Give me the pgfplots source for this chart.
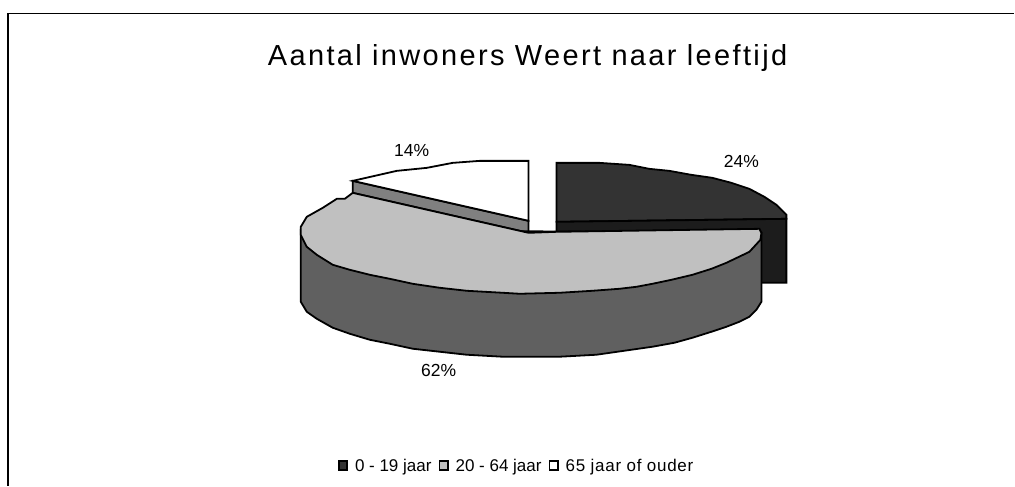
\documentclass[border=0pt]{standalone}
\usepackage{fontspec}
\setmainfont{Liberation Sans}
\usepackage{pgfplots}
\pgfplotsset{compat=1.18}

\definecolor{sliceA}{HTML}{333333}
\definecolor{sliceAside}{HTML}{1C1C1C}
\definecolor{sliceB}{HTML}{C0C0C0}
\definecolor{sliceBside}{HTML}{606060}
\definecolor{sliceBedge}{HTML}{808080}

\begin{document}
\begin{tikzpicture}
  % axis runs in image pixels of the reference, y downwards
  \begin{axis}[
      scale only axis,
      width=1015pt,
      height=486pt,
      xmin=0, xmax=1015,
      ymin=0, ymax=486,
      y dir=reverse,
      hide axis,
      clip=false,
      legend columns=3,
      legend cell align=left,
      legend style={
        at={(axis cs:338,466)}, anchor=west,
        draw=none, fill=none,
        font=\fontsize{17}{20}\selectfont,
        /tikz/every odd column/.append style={column sep=5pt},
        /tikz/every even column/.append style={column sep=5pt},
        inner sep=0pt,
      },
      legend image code/.code={
        \draw[#1, line width=1.6pt] (0pt,-4.5pt) rectangle (8.5pt,4.5pt);
      },
    ]

    % keeps the page at the full pixel box
    \path (axis cs:0,0) (axis cs:1015,486);

    % frame
    \addplot[forget plot, draw=black, line width=1.6pt] coordinates {
      (8,486) (8,13.5) (1015,13.5)
    };

    % 0 - 19 jaar, top
    \addplot[fill=sliceA, draw=black, line width=1.8pt] coordinates {
      (557,163) (600,163) (630,165) (650,169) (670,171) (692,175) (713,178)
      (732,183) (750,189) (765,197) (777,205) (787,215) (787,219) (557,222)
    } -- cycle;
    \addlegendentry{0 - 19 jaar}

    % 0 - 19 jaar, side
    \addplot[forget plot, fill=sliceAside, draw=black, line width=1.8pt] coordinates {
      (557,222) (787,219) (787,283) (755,283) (755,232) (557,232)
    } -- cycle;

    % 20 - 64 jaar, cut edge
    \addplot[forget plot, fill=sliceBedge, draw=black, line width=1.8pt] coordinates {
      (353,181) (353,193) (529,233) (529,221)
    } -- cycle;

    % 20 - 64 jaar, side
    \addplot[forget plot, fill=sliceBside, draw=black, line width=1.8pt] coordinates {
      (301,230) (301,302) (307,312) (317,319) (333,328) (350,334) (370,340)
      (390,344) (413,349) (440,352) (467,355) (503,357) (560,357) (597,355)
      (625,351) (653,347) (675,343) (693,338) (712,332) (727,327) (740,322)
      (750,317) (757,310) (762,302) (762,233)
    } -- cycle;

    % 20 - 64 jaar, top
    \addplot[fill=sliceB, draw=black, line width=1.8pt] coordinates {
      (529,233) (557,232) (760,229) (762,233) (761,240) (750,252) (727,263)
      (712,269) (693,275) (672,280) (653,284) (637,287) (620,289) (593,291)
      (560,293) (520,294) (503,293) (467,291) (440,288) (413,284) (390,279)
      (370,275) (350,270) (333,265) (317,255) (307,247) (301,235) (301,227)
      (307,217) (323,208) (337,199) (345,199) (353,193)
    } -- cycle;
    \addlegendentry{20 - 64 jaar}

    % 65 jaar of ouder, top
    \addplot[fill=white, draw=black, line width=1.8pt] coordinates {
      (529,161) (480,161) (453,163) (427,168) (397,171) (375,176) (353,181) (529,221)
    } -- cycle;
    \addlegendentry{\addfontfeature{LetterSpace=4.3}65 jaar of ouder}

    \node[anchor=base, inner sep=0pt, font=\fontsize{29}{32}\selectfont\addfontfeature{LetterSpace=8.1}] at (axis cs:528,66)
      {Aantal inwoners Weert naar leeftijd};
    \node[anchor=base, inner sep=0pt, font=\fontsize{17.5}{20}\selectfont] at (axis cs:412,157) {14\%};
    \node[anchor=base, inner sep=0pt, font=\fontsize{17.5}{20}\selectfont] at (axis cs:742,168) {24\%};
    \node[anchor=base, inner sep=0pt, font=\fontsize{17.5}{20}\selectfont] at (axis cs:439,377) {62\%};
  \end{axis}
\end{tikzpicture}
\end{document}
